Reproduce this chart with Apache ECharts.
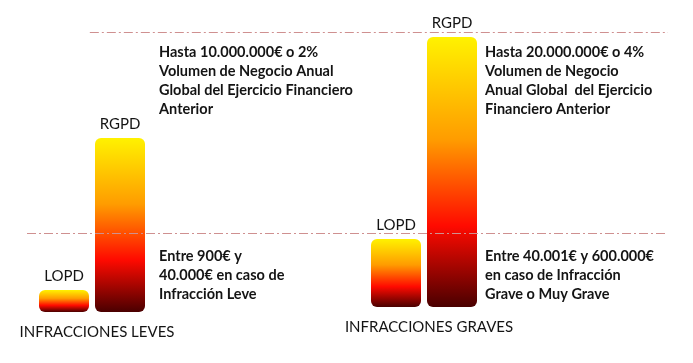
<!DOCTYPE html>
<html><head><meta charset="utf-8">
<script src="https://cdn.jsdelivr.net/npm/echarts@6/dist/echarts.min.js"></script>
<style>html,body{margin:0;padding:0;background:#fff}#c{width:693px;height:363px}</style>
</head><body><div id="c"></div>
<script>
// Data (relative fine magnitude)
const groups = ['INFRACCIONES LEVES', 'INFRACCIONES GRAVES'];
const seriesNames = ['LOPD', 'RGPD'];
const levesValues = [22, 174];     // LOPD, RGPD
const gravesValues = [68, 270];    // LOPD, RGPD
const thresholds = [275, 74];      // dashed reference levels
const thresholdStart = [0.098, 0]; // fraction of overlay width where each line starts
const yMax = 300;

const notes = [
  ['Hasta 10.000.000€ o 2%', 'Volumen de Negocio Anual', 'Global del Ejercicio Financiero', 'Anterior'],
  ['Entre 900€ y', '40.000€ en caso de', 'Infracción Leve'],
  ['Hasta 20.000.000€ o 4%', 'Volumen de Negocio', 'Anual Global  del Ejercicio', 'Financiero Anterior'],
  ['Entre 40.001€ y 600.000€', 'en caso de Infracción', 'Grave o Muy Grave']
];

const FONT = 'Lato';
const TXT = '#141414';
const grad = {
  type: 'linear', x: 0, y: 0, x2: 0, y2: 1,
  colorStops: [
    {offset: 0, color: '#fff200'},
    {offset: 0.38, color: '#ff9c00'},
    {offset: 0.70, color: '#ff0a00'},
    {offset: 1, color: '#4a0000'}
  ]
};

function barSeries(name, value, gi) {
  return {
    type: 'bar', name: name, xAxisIndex: gi, yAxisIndex: gi,
    data: [value], barWidth: 50, barGap: '12%', barCategoryGap: 0,
    itemStyle: {color: grad, borderRadius: 6},
    label: {show: true, position: 'top', distance: 6, formatter: name,
      color: TXT, fontFamily: FONT, fontSize: 15},
    z: 2
  };
}

const series = [];
seriesNames.forEach((n, i) => series.push(barSeries(n, levesValues[i], 0)));
seriesNames.forEach((n, i) => series.push(barSeries(n, gravesValues[i], 1)));
series.push({
  type: 'line', xAxisIndex: 2, yAxisIndex: 2, data: [], silent: true, z: 5,
  markLine: {
    symbol: 'none', silent: true, label: {show: false},
    lineStyle: {color: '#cf9090', width: 1, type: [9, 3, 2, 3]},
    data: thresholds.map((t, i) => [{coord: [thresholdStart[i], t]}, {coord: [1, t]}])
  }
});

const catAxis = (name, gi) => ({
  type: 'category', gridIndex: gi, data: [name],
  axisLine: {show: false}, axisTick: {show: false},
  axisLabel: {color: TXT, fontFamily: FONT, fontSize: 15, margin: 13, padding: [0, 0, 0, 10]}
});
const valAxis = gi => ({type: 'value', gridIndex: gi, min: 0, max: yMax, show: false});

const graphic = [];
const noteX = [159, 159, 485, 485];
const noteY = [43, 247, 43, 247];
notes.forEach((lines, i) => {
  graphic.push({
    type: 'text', left: noteX[i], top: noteY[i],
    style: {text: lines.join('\n'), fill: TXT, font: 'bold 14.5px ' + FONT, lineHeight: 19}
  });
});

const chart = echarts.init(document.getElementById('c'));
chart.setOption({
  animation: false,
  backgroundColor: '#fff',
  grid: [
    {left: 39, width: 106, top: 12, height: yMax},
    {left: 371, width: 106, top: 7, height: yMax},
    {left: 27, right: 25, top: 7, height: yMax}
  ],
  xAxis: [catAxis(groups[0], 0), catAxis(groups[1], 1),
    {type: 'value', gridIndex: 2, min: 0, max: 1, show: false}],
  yAxis: [valAxis(0), valAxis(1), valAxis(2)],
  series: series,
  graphic: graphic
});
</script></body></html>
